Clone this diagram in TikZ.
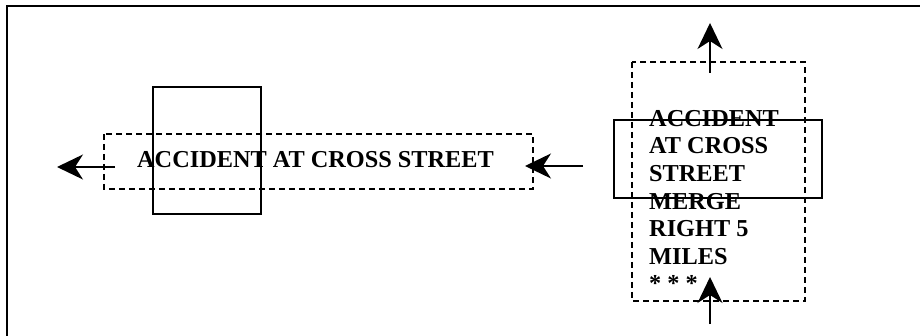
\documentclass[tikz,border=0pt]{standalone}
\usepackage{fontspec}
\setmainfont{Liberation Serif}
\usetikzlibrary{arrows.meta}
\begin{document}
\begin{tikzpicture}[x=1pt,y=-1pt,
  frameline/.style={line width=1.5pt},
  signbox/.style={line width=1.2pt},
  dashbox/.style={line width=1.4pt, dash pattern=on 6pt off 4pt},
  flow/.style={line width=1.3pt, -{Stealth[length=26pt,width=25pt,inset=8pt]}},
  signtext/.style={inner sep=0pt, font=\bfseries\fontsize{24.3}{27.6}\selectfont}]
  \useasboundingbox (0,0) rectangle (920,336);
  % outer frame
  \draw[frameline] (7,340) -- (7,6) -- (924,6);

  % horizontal message sign
  \draw[signbox] (153,87) rectangle (261,214);
  \draw[dashbox] (104,134) rectangle (533,189);
  \node[signtext, anchor=base west] (hmsg) at (137,168) {ACCIDENT AT CROSS STREET};
  \coordinate (hin) at (583,166);
  \coordinate (hinTip) at (525,166);
  \coordinate (houtStart) at (115,167);
  \coordinate (hout) at (57,167);
  \draw[flow] (hin) -- (hinTip);
  \draw[flow] (houtStart) -- (hout);

  % vertical message sign (anchored on the baseline of its last line)
  \draw[dashbox] (632,62) rectangle (805,301);
  \node[signtext, anchor=base west, align=left] (vmsg) at (649,292)
    {ACCIDENT\\AT CROSS\\STREET\\MERGE\\RIGHT 5\\MILES\\* * *};
  \draw[signbox] (614,120) rectangle (822,198);
  \coordinate (vinStart) at (710,324);
  \coordinate (vinTip) at (710,277);
  \coordinate (voutStart) at (710,73);
  \coordinate (vout) at (710,23);
  \draw[flow] (vinStart) -- (vinTip);
  \draw[flow] (voutStart) -- (vout);
\end{tikzpicture}
\end{document}
